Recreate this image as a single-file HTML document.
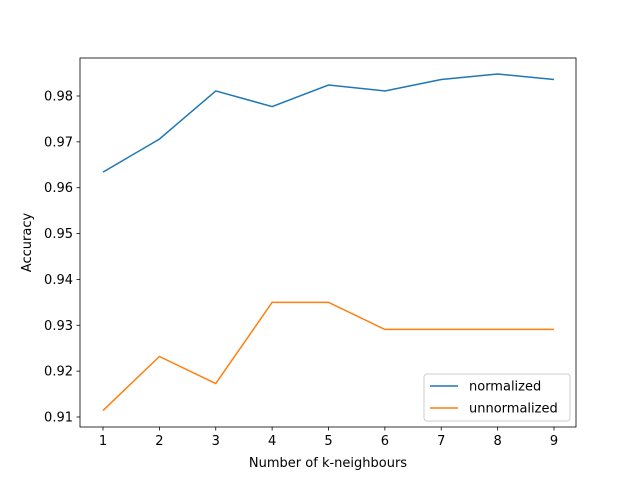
<!DOCTYPE html>
<html><head><meta charset="utf-8"><style>body{margin:0;background:#fff}svg{display:block;font-family:"DejaVu Sans","Liberation Sans",sans-serif}</style></head>
<body>
<svg id="chart" width="640" height="480"></svg>
<script>
const categories=[1,2,3,4,5,6,7,8,9];
const normalized=[0.9634,0.9706,0.9811,0.9777,0.9824,0.9811,0.9836,0.9848,0.9836];
const unnormalized=[0.9114,0.9232,0.9173,0.9350,0.9350,0.9291,0.9291,0.9291,0.9291];
const yTicks=[0.91,0.92,0.93,0.94,0.95,0.96,0.97,0.98];
const NS="http://www.w3.org/2000/svg";
const svg=document.getElementById('chart');
const L=80,R=576,T=58,B=427;
const xs=v=>103+(v-1)*(554-103)/8;
const ys=v=>417-(v-0.91)*(417-96)/0.07;
function mk(t,a,p){const e=document.createElementNS(NS,t);for(const k in a)e.setAttribute(k,a[k]);(p||svg).appendChild(e);return e;}
categories.forEach(c=>{
 const g=mk('g',{});
 
 
 mk('line',{x1:xs(c),x2:xs(c),y1:B,y2:B+3.5,stroke:'#000','stroke-width':0.8},g);
 const t=mk('text',{x:xs(c),y:B+18,'text-anchor':'middle','font-size':13},g);t.textContent=c;
});
yTicks.forEach(v=>{
 const g=mk('g',{});
 
 
 mk('line',{x1:L-3.5,x2:L,y1:ys(v),y2:ys(v),stroke:'#000','stroke-width':0.8},g);
 const t=mk('text',{x:L-7,y:ys(v)+4.5,'text-anchor':'end','font-size':13},g);t.textContent=v.toFixed(2);
});
function line(data,color,name){
 const p=mk('polyline',{points:data.map((v,i)=>xs(categories[i])+','+ys(v)).join(' '),fill:'none',stroke:color,'stroke-width':1.5});
 
 
}
line(normalized,'#1f77b4','normalized-line');
line(unnormalized,'#ff7f0e','unnormalized-line');
const fr=mk('rect',{x:L,y:T,width:R-L,height:B-T,fill:'none',stroke:'#000','stroke-width':0.8});


const xt=mk('text',{x:(L+R)/2,y:467,'text-anchor':'middle','font-size':13});xt.textContent='Number of k-neighbours';


const yt=mk('text',{x:31,y:(T+B)/2,'text-anchor':'middle','font-size':13,transform:'rotate(-90 31 '+(T+B)/2+')'});yt.textContent='Accuracy';


const lg=mk('g',{});


mk('rect',{x:424,y:374,width:146,height:47,rx:3,fill:'#fff','fill-opacity':0.8,stroke:'#ccc'},lg);
[['normalized','#1f77b4',386],['unnormalized','#ff7f0e',408]].forEach(([n,c,y])=>{
 const g=mk('g',{},lg);
 
 
 mk('line',{x1:430,x2:458,y1:y,y2:y,stroke:c,'stroke-width':1.5},g);
 const t=mk('text',{x:469,y:y+4.5,'font-size':13},g);t.textContent=n;
});
</script>
</body></html>
